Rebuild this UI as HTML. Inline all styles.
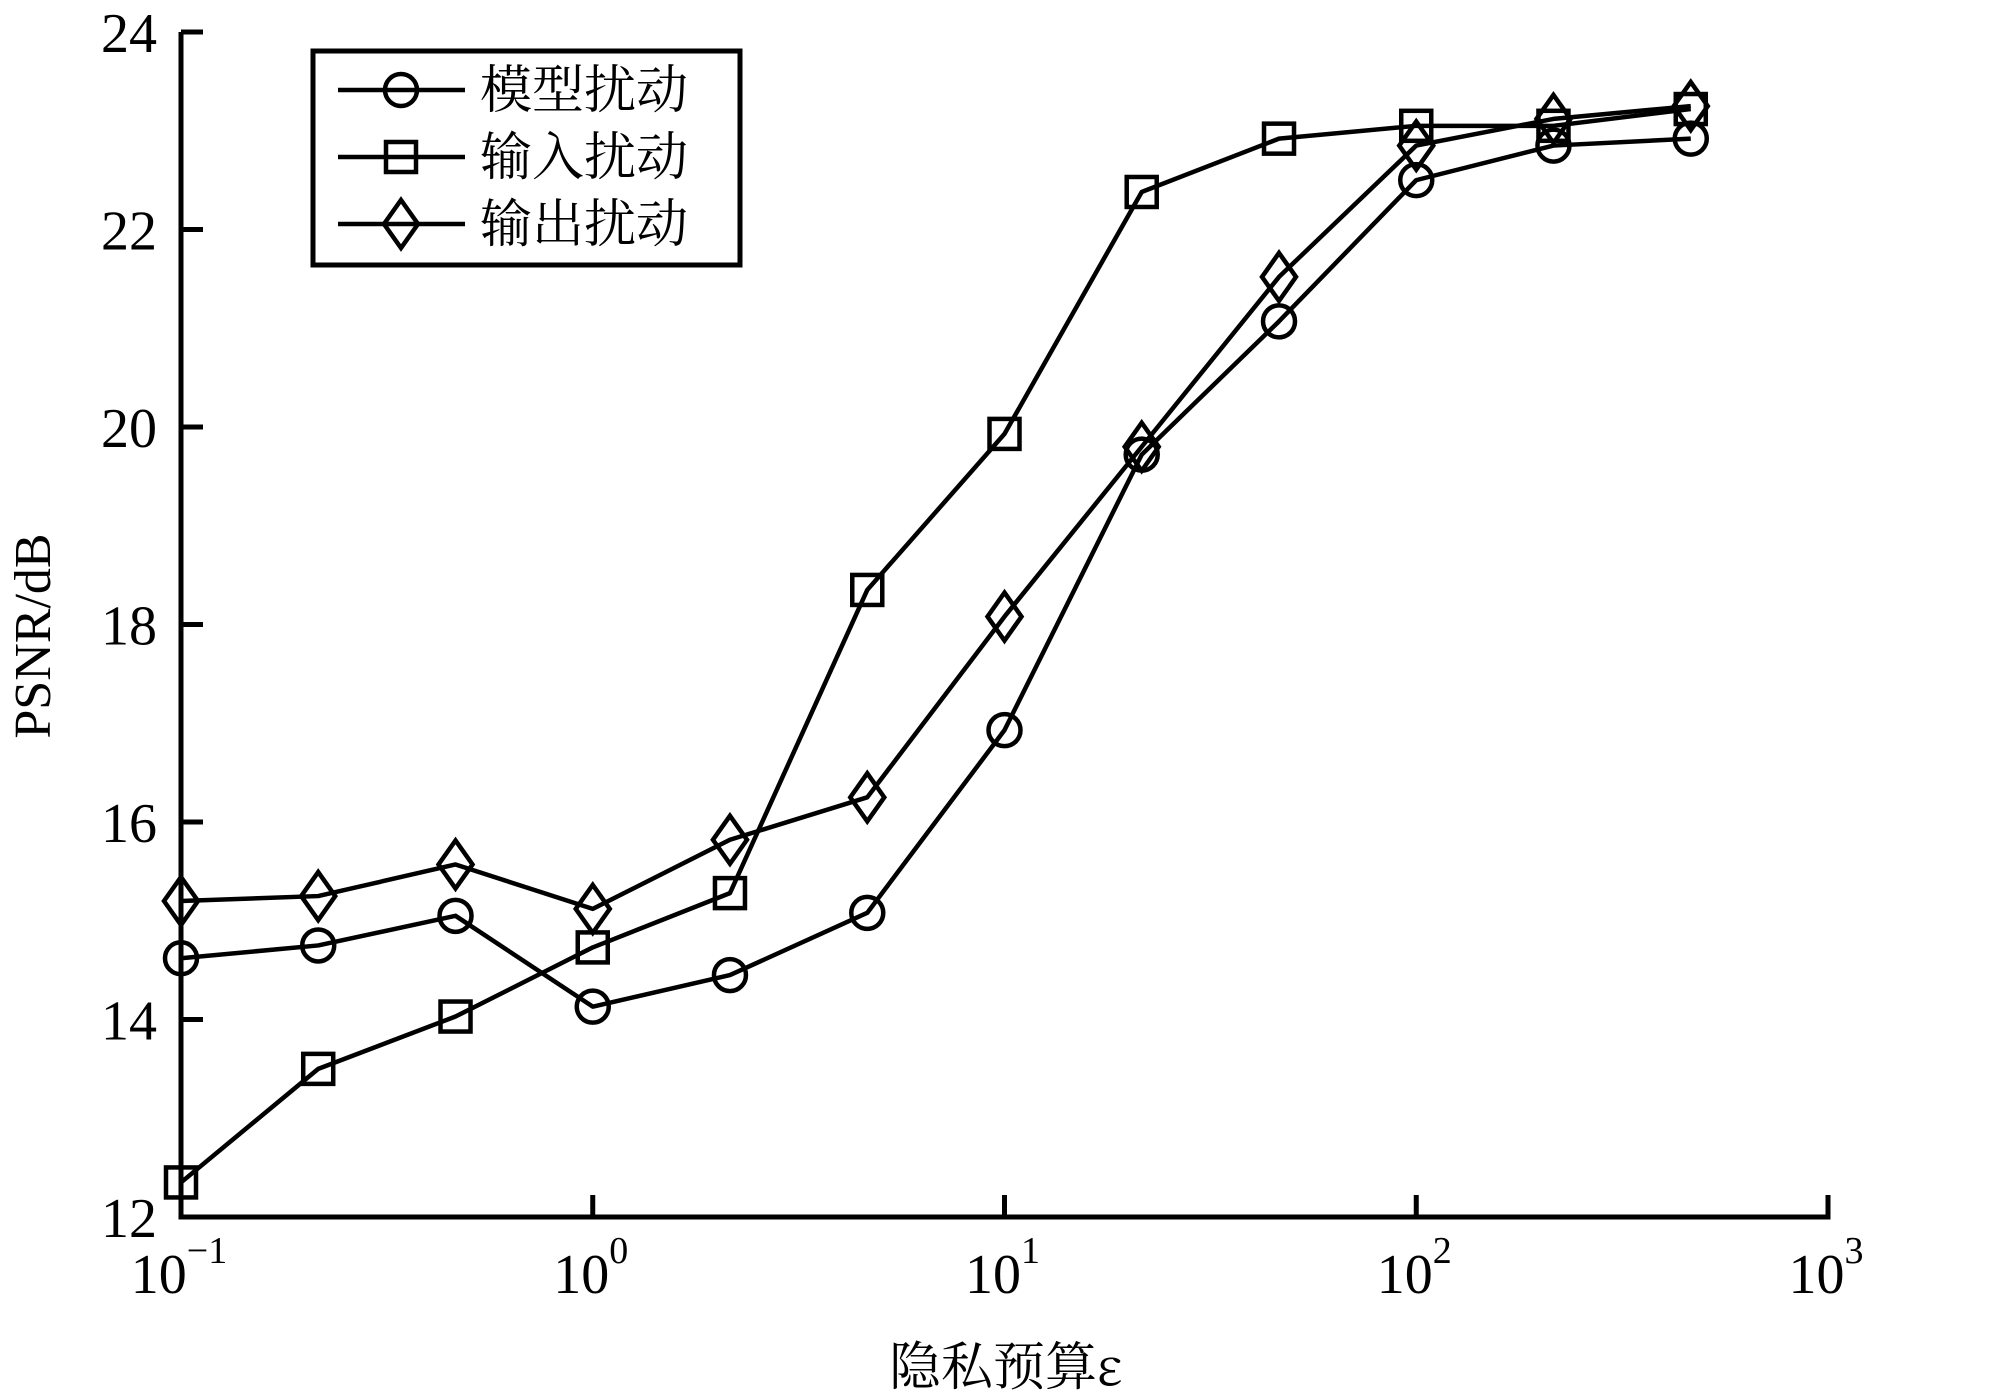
<!DOCTYPE html>
<html><head><meta charset="utf-8"><style>
html,body{margin:0;padding:0;background:#fff;}
svg{display:block;}
text{font-family:"Liberation Serif","Noto Serif CJK SC",serif;fill:#000;}
</style></head><body>
<svg id="chart" width="2013" height="1397" viewBox="0 0 2013 1397" xmlns="http://www.w3.org/2000/svg">
<g id="axes"></g>
<g id="series"></g>
<g id="legend"></g>
<text x="1006" y="1385" font-size="52" text-anchor="middle" style="font-family:'Noto Serif CJK SC','Liberation Serif',serif">隐私预算ε</text>
<text x="0" y="0" font-size="52" text-anchor="middle" transform="translate(50,636) rotate(-90)">PSNR/dB</text>
</svg>
<script>
const xValues = [0.1, 0.2154, 0.4642, 1, 2.154, 4.642, 10, 21.54, 46.42, 100, 215.4, 464.2];
const modelPerturb = [14.62, 14.75, 15.05, 14.13, 14.45, 15.08, 16.93, 19.72, 21.07, 22.5, 22.85, 22.92];
const inputPerturb = [12.35, 13.5, 14.03, 14.73, 15.28, 18.35, 19.93, 22.38, 22.92, 23.05, 23.05, 23.22];
const outputPerturb = [15.2, 15.25, 15.57, 15.12, 15.82, 16.25, 18.08, 19.8, 21.52, 22.85, 23.12, 23.25];
const yTicks = [12, 14, 16, 18, 20, 22, 24];
const xTickExps = [-1, 0, 1, 2, 3];
const seriesNames = ["模型扰动", "输入扰动", "输出扰动"];

const NS = "http://www.w3.org/2000/svg";
const L = 181, R = 1828, T = 32, B = 1217;
const xScale = v => L + (Math.log10(v) + 1) / 4 * (R - L);
const yScale = v => B - (v - 12) / 12 * (B - T);
function mk(tag, attrs, parent){const e=document.createElementNS(NS,tag);for(const k in attrs)e.setAttribute(k,attrs[k]);parent.appendChild(e);return e;}
const axes = document.getElementById('axes');
let p = mk('path',{d:`M${L},${T} L${L},${B} L${R},${B} L${R},${B-22}`,fill:'none',stroke:'#000','stroke-width':5},axes);


yTicks.forEach(v=>{
  const y=yScale(v);
  const t=mk('line',{x1:L,x2:L+22,y1:y,y2:y,stroke:'#000','stroke-width':5},axes);
  
  
  const lb=mk('text',{x:L-24,y:y+20,'font-size':56,'text-anchor':'end'},axes);
  lb.textContent=v;
  
  
});
xTickExps.forEach(e=>{
  const x=xScale(Math.pow(10,e));
  const t=mk('line',{x1:x,x2:x,y1:B,y2:B-22,stroke:'#000','stroke-width':5},axes);
  
  
  const lb=mk('text',{x:x-2,y:1293,'font-size':56,'text-anchor':'middle'},axes);
  
  
  lb.textContent='10';
  const sup=mk('tspan',{dy:-30,'font-size':38},lb);
  sup.textContent=String(e).replace('-','\u2212');
});
function marker(g,type,x,y){
  let m;
  if(type===0) m=mk('circle',{cx:x,cy:y,r:16,fill:'none',stroke:'#000','stroke-width':4.5},g);
  else if(type===1) m=mk('rect',{x:x-15,y:y-15,width:30,height:30,fill:'none',stroke:'#000','stroke-width':4.5},g);
  else m=mk('path',{d:`M${x},${y-24} L${x+17},${y} L${x},${y+24} L${x-17},${y} Z`,fill:'none',stroke:'#000','stroke-width':4.5},g);
  
  
}
const sg=document.getElementById('series');
[modelPerturb,inputPerturb,outputPerturb].forEach((arr,i)=>{
  const g=mk('g',{},sg);
  
  
  const d=arr.map((v,j)=>(j?'L':'M')+xScale(xValues[j])+','+yScale(v)).join(' ');
  const ln=mk('path',{d:d,fill:'none',stroke:'#000','stroke-width':4.5,'stroke-linejoin':'round'},g);
  
  
  arr.forEach((v,j)=>marker(g,i,xScale(xValues[j]),yScale(v)));
});
const lg=document.getElementById('legend');
const box=mk('rect',{x:313,y:51,width:427,height:214,fill:'#fff',stroke:'#000','stroke-width':5},lg);


seriesNames.forEach((n,i)=>{
  const y=90+i*67;
  const g=mk('g',{},lg);
  
  
  mk('line',{x1:338,x2:465,y1:y,y2:y,stroke:'#000','stroke-width':4.5},g);
  marker(g,i,401,y);
  const t=mk('text',{x:480,y:y+18,'font-size':52},g);
  t.setAttribute('style',"font-family:'Noto Serif CJK SC','Liberation Serif',serif");
  t.textContent=n;
});
</script>
</body></html>
